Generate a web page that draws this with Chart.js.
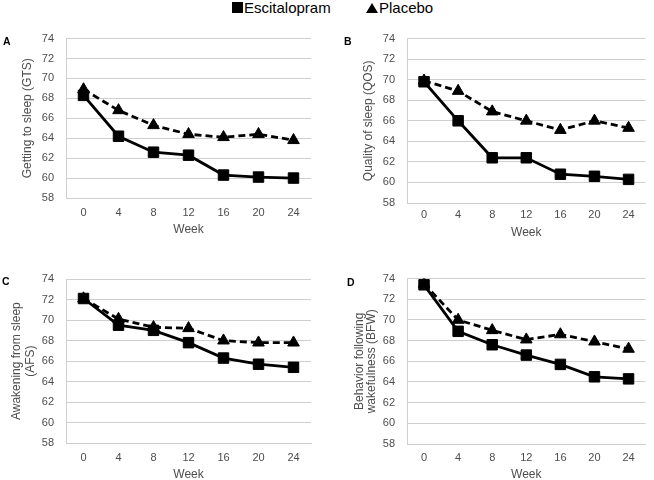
<!DOCTYPE html>
<html>
<head>
<meta charset="utf-8">
<script src="https://cdn.jsdelivr.net/npm/chart.js@4.4.1/dist/chart.umd.min.js"></script>
<style>
  html, body { margin: 0; padding: 0; width: 654px; height: 480px; overflow: hidden; background: #fff; }
  canvas { position: absolute; }
  .lbl { position: absolute; font: bold 10.5px "Liberation Sans", Arial, sans-serif; color: #000; line-height: 1; }
  .leg { position: absolute; top: 0; font: 15px "Liberation Sans", Arial, sans-serif; color: #000; line-height: 15px; }
  .sq { position: absolute; width: 11px; height: 11px; background: #000; }
  .tri { position: absolute; width: 0; height: 0; border-left: 6px solid transparent; border-right: 6px solid transparent; border-bottom: 10px solid #000; }
</style>
</head>
<body>
<canvas id="cA" width="327" height="225" style="left:0px;top:20px;"></canvas>
<canvas id="cB" width="327" height="225" style="left:327px;top:20px;"></canvas>
<canvas id="cC" width="327" height="230" style="left:0px;top:260px;"></canvas>
<canvas id="cD" width="327" height="230" style="left:327px;top:260px;"></canvas>

<div class="sq" style="left:232px;top:2px;"></div>
<div class="leg" style="left:244px;">Escitalopram</div>
<div class="tri" style="left:366px;top:3px;"></div>
<div class="leg" style="left:379px;">Placebo</div>

<div class="lbl" style="left:3px;top:36px;">A</div>
<div class="lbl" style="left:344px;top:36px;">B</div>
<div class="lbl" style="left:2px;top:276px;">C</div>
<div class="lbl" style="left:347px;top:277px;">D</div>

<script>
// ---- data ----
const weeks = ['0', '4', '8', '12', '16', '20', '24'];
const seriesNames = ['Escitalopram', 'Placebo'];

const gtsEscitalopram = [68.3, 64.2, 62.6, 62.3, 60.3, 60.1, 60.0];
const gtsPlacebo      = [68.9, 66.8, 65.3, 64.4, 64.1, 64.4, 63.8];

const qosEscitalopram = [69.8, 66.0, 62.4, 62.4, 60.8, 60.6, 60.3];
const qosPlacebo      = [69.9, 68.9, 66.9, 66.0, 65.1, 66.0, 65.3];

const afsEscitalopram = [72.1, 69.5, 69.0, 67.8, 66.3, 65.7, 65.4];
const afsPlacebo      = [72.1, 70.1, 69.3, 69.2, 68.0, 67.8, 67.8];

const bfwEscitalopram = [73.4, 68.9, 67.6, 66.6, 65.7, 64.5, 64.3];
const bfwPlacebo      = [73.5, 70.0, 69.0, 68.1, 68.6, 67.9, 67.2];

const yMin = 58, yMax = 74, yStep = 2;
const xTitle = 'Week';
const yTitleA = 'Getting to sleep (GTS)';
const yTitleB = 'Quality of sleep (QOS)';
const yTitleC = ['Awakening from sleep', '(AFS)'];
const yTitleD = ['Behavior following', 'wakefulness (BFW)'];

// ---- drawing ----
const FONT = '"Liberation Sans", Arial, sans-serif';
const TICK_COLOR = '#4d4d4d';
const GRID_COLOR = '#cfcfcf';

function makeChart(id, esc, pla, yTitle, L) {
  const ctx = document.getElementById(id).getContext('2d');
  return new Chart(ctx, {
    type: 'line',
    data: {
      labels: weeks,
      datasets: [
        {
          label: seriesNames[0], data: esc,
          borderColor: '#000', backgroundColor: '#000', borderWidth: 2.8,
          pointStyle: 'rect', pointRadius: 7.4, pointBorderWidth: 1,
          pointBackgroundColor: '#000', pointBorderColor: '#000',
          tension: 0, fill: false
        },
        {
          label: seriesNames[1], data: pla,
          borderColor: '#000', backgroundColor: '#000', borderWidth: 2.8,
          borderDash: [7, 4],
          pointStyle: 'triangle', pointRadius: 6.7, pointBorderWidth: 1,
          pointBackgroundColor: '#000', pointBorderColor: '#000',
          tension: 0, fill: false
        }
      ]
    },
    options: {
      responsive: false,
      animation: false,
      devicePixelRatio: 1,
      layout: { padding: { top: L.top, right: L.right, left: 0, bottom: 0 } },
      plugins: { legend: { display: false }, tooltip: { enabled: false } },
      scales: {
        x: {
          type: 'category',
          offset: true,
          grid: { display: false, drawTicks: false },
          border: { display: true, color: GRID_COLOR, width: 1 },
          ticks: { color: TICK_COLOR, font: { family: FONT, size: 11 }, padding: L.xTickPad, autoSkip: false, maxRotation: 0 },
          title: { display: true, text: xTitle, color: TICK_COLOR, font: { family: FONT, size: 12, lineHeight: 1.2 }, padding: { top: 0, bottom: L.xTitlePad } },
          afterFit: (s) => { s.height = L.xHeight; }
        },
        y: {
          min: yMin, max: yMax,
          grid: { display: true, color: GRID_COLOR, lineWidth: 1, drawTicks: false },
          border: { display: true, color: GRID_COLOR, width: 1 },
          ticks: { stepSize: yStep, color: TICK_COLOR, font: { family: FONT, size: 11 }, padding: 12 },
          title: { display: true, text: yTitle, color: TICK_COLOR, font: { family: FONT, size: 12, lineHeight: L.yTitleLH }, padding: { top: L.yTitlePad, bottom: 0 } },
          afterFit: (s) => { s.width = L.yWidth; }
        }
      }
    }
  });
}

makeChart('cA', gtsEscitalopram, gtsPlacebo, yTitleA,
  { top: 16, right: 16, yWidth: 66, xHeight: 47, xTickPad: 8, xTitlePad: 7.8, yTitlePad: 20.3, yTitleLH: 1.2 });
makeChart('cB', qosEscitalopram, qosPlacebo, yTitleB,
  { top: 18, right: 2, yWidth: 80, xHeight: 42, xTickPad: 5, xTitlePad: 4.8, yTitlePad: 34.6, yTitleLH: 1.2 });
makeChart('cC', afsEscitalopram, afsPlacebo, yTitleC,
  { top: 19, right: 16, yWidth: 66, xHeight: 46.7, xTickPad: 8, xTitlePad: 7.8, yTitlePad: 9.7, yTitleLH: 1.18 });
makeChart('cD', bfwEscitalopram, bfwPlacebo, yTitleD,
  { top: 18.3, right: 0, yWidth: 80, xHeight: 46, xTickPad: 7.4, xTitlePad: 7.8, yTitlePad: 26.2, yTitleLH: 1.05 });
</script>
</body>
</html>
